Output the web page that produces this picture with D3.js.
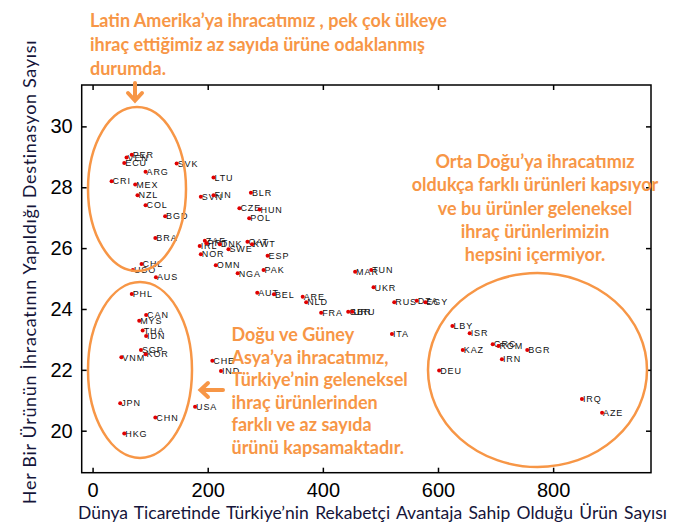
<!DOCTYPE html>
<html><head><meta charset="utf-8">
<script src="https://cdn.jsdelivr.net/npm/d3@7"></script>
<style>body{margin:0;background:#fff}svg{display:block}</style>
</head><body>
<svg id="c" width="693" height="527"></svg>
<script>
const countries = ["PER","VEN","ECU","ARG","SVK","CRI","MEX","NZL","COL","BGD","BRA","CHL","USO","AUS","PHL","CAN","MYS","THA","IDN","SGP","KOR","VNM","JPN","USA","CHN","HKG","CHE","IND","LTU","SVN","FIN","BLR","CZE","HUN","POL","IRL","NOR","ZAF","PRT","DNK","SWE","QAT","KWT","ESP","OMN","NGA","PAK","AUT","BEL","MAR","TUN","UKR","ARE","NLD","FRA","GBR","URU","RUS","DZA","EGY","ITA","LBY","ISR","KAZ","GRC","ROM","BGR","IRN","DEU","IRQ","AZE"];
const xValues = [68,59,55,92,146,33,74,78,92,126,109,85,70,110,68,93,81,87,93,84,92,50,48,178,109,55,208,223,210,188,210,275,255,290,272,186,188,195,198,221,236,269,277,304,214,252,297,286,315,456,484,488,365,371,397,444,451,524,563,578,520,625,655,643,695,705,755,711,602,850,885];
const yValues = [29.07,28.98,28.80,28.51,28.78,28.20,28.09,27.74,27.41,27.05,26.33,25.48,25.28,25.04,24.49,23.80,23.61,23.29,23.11,22.65,22.51,22.41,20.90,20.79,20.43,19.91,22.30,21.96,28.32,27.69,27.74,27.82,27.31,27.27,26.98,26.07,25.80,26.24,26.16,26.13,25.96,26.21,26.13,25.75,25.44,25.17,25.28,24.53,24.48,25.22,25.28,24.71,24.40,24.22,23.88,23.91,23.91,24.22,24.27,24.22,23.18,23.44,23.20,22.65,22.84,22.78,22.65,22.35,21.98,21.04,20.59];
const xTicks = [0,200,400,600,800];
const yTicks = [20,22,24,26,28,30];
const xTitle = "Dünya Ticaretinde Türkiye’nin Rekabetçi Avantaja Sahip Olduğu Ürün Sayısı";
const yTitle = "Her Bir Ürünün İhracatının Yapıldığı Destinasyon Sayısı";
const note1 = ["Latin Amerika’ya ihracatımız , pek çok ülkeye","ihraç ettiğimiz az sayıda ürüne odaklanmış","durumda."];
const note2 = ["Orta Doğu’ya ihracatımız","oldukça farklı ürünleri kapsıyor","ve bu ürünler geleneksel","ihraç ürünlerimizin","hepsini içermiyor."];
const note3 = ["Doğu ve Güney","Asya’ya ihracatımız,","Türkiye’nin geleneksel","ihraç ürünlerinden","farklı ve az sayıda","ürünü kapsamaktadır."];

const svg = d3.select("#c");
const L = 81.7, R = 651, T = 85, B = 472.7;
const x = d3.scaleLinear().domain([-18.9, 970]).range([L, R]);
const y = d3.scaleLinear().domain([18.62, 31.36]).range([B, T]);
const orange = "#F79646";
const tickFont = "'Liberation Sans', Arial, sans-serif";
const txtFont = "Lato, 'Open Sans', sans-serif";

// axes with inward ticks on all four sides
const axB = d3.axisBottom(x).tickValues(xTicks).tickSize(-5).tickPadding(10);
const axT = d3.axisTop(x).tickValues(xTicks).tickSize(-5).tickFormat("");
const axL = d3.axisLeft(y).tickValues(yTicks).tickSize(-5).tickPadding(9);
const axR = d3.axisRight(y).tickValues(yTicks).tickSize(-5).tickFormat("");
function style(g){g.selectAll("path,line").attr("stroke","#000").attr("stroke-width",1.5);g.selectAll("text").attr("fill","#000").style("font-family",tickFont).style("font-size","20px");}
svg.append("g").attr("transform",`translate(0,${B})`).call(axB).call(style);
svg.append("g").attr("transform",`translate(0,${T})`).call(axT).call(style);
svg.append("g").attr("transform",`translate(${L},0)`).call(axL).call(style);
svg.append("g").attr("transform",`translate(${R},0)`).call(axR).call(style);
svg.selectAll(".domain").attr("d", null);
svg.append("rect").attr("x",L).attr("y",T).attr("width",R-L).attr("height",B-T).attr("fill","none").attr("stroke","#000").attr("stroke-width",1.5);

// points
const pts = svg.append("g");
countries.forEach((c,i)=>{
  const px = x(xValues[i]), py = y(yValues[i]);
  pts.append("text").attr("x",px+1).attr("y",py).attr("dy","0.35em")
    .style("font-family",tickFont).style("font-size","9px").style("letter-spacing","0.9px")
    .attr("fill","#111").text(c);
});
countries.forEach((c,i)=>{
  pts.append("circle").attr("cx",x(xValues[i])).attr("cy",y(yValues[i])).attr("r",2).attr("fill","#e00000");
});

// ellipses
const ell = [[137,189,49,82],[140,370,52,88],[537.5,370,109.5,97]];
ell.forEach(e=>svg.append("ellipse").attr("cx",e[0]).attr("cy",e[1]).attr("rx",e[2]).attr("ry",e[3]).attr("fill","none").attr("stroke",orange).attr("stroke-width",2.5));

// arrows
svg.append("path").attr("d","M135,83 L135,100 M128,93 L135,100.5 L142,93").attr("fill","none").attr("stroke",orange).attr("stroke-width",4).attr("stroke-linecap","round");
svg.append("path").attr("d","M223,390 L201,390 M208,383 L200.5,390 L208,397").attr("fill","none").attr("stroke",orange).attr("stroke-width",4).attr("stroke-linecap","round");

// notes
function note(lines,x0,y0,dy,anchor){
  const t = svg.append("text").attr("fill",orange).style("font-family",txtFont).style("font-weight","bold").style("font-size","18px").attr("text-anchor",anchor);
  lines.forEach((l,i)=>t.append("tspan").attr("x",x0).attr("y",y0+i*dy).text(l));
}
note(note1,90,27,24,"start");
note(note2,535,168,23.3,"middle");
note(note3,231.5,341,22.5,"start");

// axis titles
const tcol = "#15153a";
const xt = svg.append("text").attr("x",78).attr("y",519).attr("fill",tcol).style("font-family",txtFont).style("font-size","17.5px").text(xTitle);
const xl = xt.node().getComputedTextLength(); const nsp = xTitle.split(" ").length-1;
xt.style("word-spacing", ((589 - xl)/nsp)+"px");
const yt = svg.append("text").attr("transform","translate(36,272) rotate(-90)").attr("text-anchor","middle").attr("fill",tcol).style("font-family",txtFont).style("font-size","18px").text(yTitle);
const yl = yt.node().getComputedTextLength();
yt.style("letter-spacing", ((465 - yl)/yTitle.length)+"px");
</script>
</body></html>
